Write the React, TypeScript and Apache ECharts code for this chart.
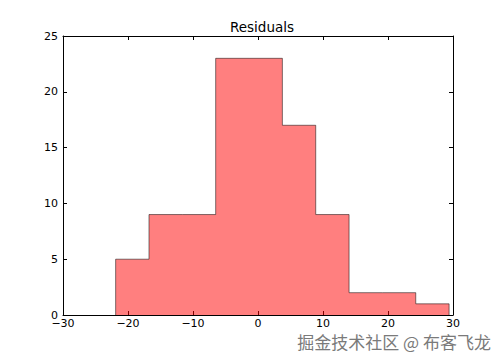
import React, { useEffect, useRef } from "react";
import * as echarts from "echarts";

const binEdges = [-21.9, -16.77, -11.64, -6.51, -1.38, 3.75, 8.88, 14.01, 19.14, 24.27, 29.4];
const binCounts = [5, 9, 9, 23, 23, 17, 9, 2, 2, 1];
const xTicks = [-30, -20, -10, 0, 10, 20, 30];
const yTicks = [0, 5, 10, 15, 20, 25];
const titleText = "Residuals";
const watermark = "掘金技术社区 @ 布客飞龙";

export default function App() {
  const ref = useRef<HTMLDivElement>(null);
  useEffect(() => {
    if (!ref.current) return;
    const chart = echarts.init(ref.current, undefined, { renderer: "svg" });
    const pts: number[][] = [[binEdges[0], 0]];
    binCounts.forEach((c, i) => pts.push([binEdges[i], c]));
    pts.push([binEdges[binEdges.length - 1], 0]);
    const font = "DejaVu Sans";
    const axisCommon = {
      type: "value" as const,
      axisLine: { show: true, onZero: false, lineStyle: { color: "#000", width: 1 } },
      axisTick: { show: true, inside: true, length: 4, lineStyle: { color: "#000" } },
      splitLine: { show: false },
    };
    const fmt = (v: number) => String(v).replace("-", "\u2212");
    chart.setOption({
      animation: false,
      backgroundColor: "#fff",
      title: {
        text: titleText,
        left: 257,
        textAlign: "center",
        top: 15,
        textStyle: { fontFamily: font, fontSize: 13.5, fontWeight: "normal", color: "#000" },
      },
      grid: { left: 63, top: 36, width: 390, height: 279 },
      xAxis: [
        {
          ...axisCommon,
          position: "bottom",
          min: xTicks[0],
          max: xTicks[xTicks.length - 1],
          interval: 10,
          axisLabel: { fontFamily: font, fontSize: 11, color: "#000", margin: 3, formatter: fmt },
        },
        {
          ...axisCommon,
          position: "top",
          min: xTicks[0],
          max: xTicks[xTicks.length - 1],
          interval: 10,
          axisLabel: { show: false },
        },
      ],
      yAxis: [
        {
          ...axisCommon,
          position: "left",
          min: yTicks[0],
          max: yTicks[yTicks.length - 1],
          interval: 5,
          axisLabel: { fontFamily: font, fontSize: 11, color: "#000", margin: 5, formatter: fmt },
        },
        {
          ...axisCommon,
          position: "right",
          min: yTicks[0],
          max: yTicks[yTicks.length - 1],
          interval: 5,
          axisLabel: { show: false },
        },
      ],
      series: [
        {
          type: "line",
          data: pts,
          step: "end",
          showSymbol: false,
          symbol: "none",
          lineStyle: { color: "rgba(0,0,0,0.5)", width: 1 },
          areaStyle: { color: "rgba(255,0,0,0.5)", opacity: 1 },
          z: 1,
        },
      ],
      graphic: [
        {
          type: "text",
          right: 12,
          top: 333,
          style: {
            text: watermark,
            font: '17px "Noto Sans CJK SC"',
            fill: "#7a7a7a",
          },
        },
      ],
    });
    return () => chart.dispose();
  }, []);
  return <div ref={ref} style={{ width: 503, height: 360, position: "absolute", left: 0, top: 0 }} />;
}
